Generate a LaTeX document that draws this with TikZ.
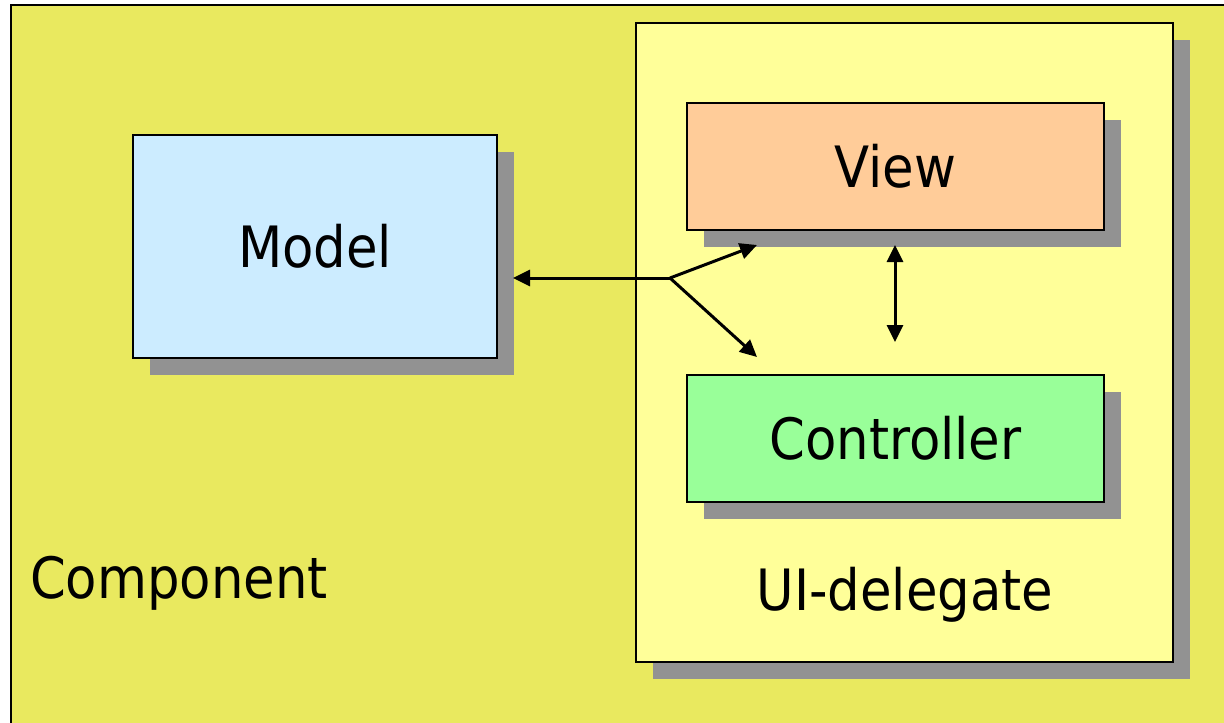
\documentclass[tikz,border=0pt]{standalone}
\usepackage{fontspec}
\setmainfont{DejaVu Sans Condensed}
\usetikzlibrary{shadows,arrows.meta}
\definecolor{outeryellow}{HTML}{E9E95F}
\definecolor{uiyellow}{HTML}{FFFF99}
\definecolor{modelblue}{HTML}{CCECFF}
\definecolor{vieworange}{HTML}{FFCC99}
\definecolor{ctrlgreen}{HTML}{99FF99}
\definecolor{shadowgray}{HTML}{929292}
\begin{document}
\begin{tikzpicture}[x=1pt,y=-1pt,
  box/.style={draw=black, line width=2pt, inner sep=0pt, anchor=north west,
    drop shadow={shadow xshift=17pt, shadow yshift=-17pt, fill=shadowgray, opacity=1},
    font=\fontsize{57}{61}\selectfont},
  lbl/.style={inner sep=0pt, font=\fontsize{57}{61}\selectfont},
  conn/.style={line width=3pt, -{Triangle[length=17pt,width=16pt]}},
  dconn/.style={line width=3pt, {Triangle[length=17pt,width=16pt]}-{Triangle[length=17pt,width=16pt]}}]
\useasboundingbox (0,0) rectangle (1224,723);
\fill[white] (0,0) rectangle (1224,723);
% component
\path[fill=outeryellow] (11,5) rectangle (1240,740);
\draw[line width=2pt] (11,740) -- (11,5) -- (1240,5);
\node[lbl, anchor=base west] (complbl) at (30,598) {Component};
% UI delegate
\node[box, fill=uiyellow, minimum width=537pt, minimum height=639pt] (ui) at (635,22) {};
\node[lbl, anchor=base] (uilbl) at (905,610) {UI-delegate};
% boxes
\node[box, fill=modelblue, minimum width=364pt, minimum height=223pt] (model) at (132,134) {Model};
\node[box, fill=vieworange, minimum width=417pt, minimum height=127pt] (view) at (686,102) {View};
\node[box, fill=ctrlgreen, minimum width=417pt, minimum height=127pt] (ctrl) at (686,374) {Controller};
% connectors
\coordinate (junc) at (670,278);
\coordinate (modelin) at (513,278);
\coordinate (viewin) at (757,245);
\coordinate (ctrlin) at (757,357);
\coordinate (vtop) at (895,245);
\coordinate (vbot) at (895,342);
\draw[conn] (junc) -- (modelin);
\draw[conn] (junc) -- (viewin);
\draw[conn] (junc) -- (ctrlin);
\draw[dconn] (vtop) -- (vbot);
\end{tikzpicture}
\end{document}
